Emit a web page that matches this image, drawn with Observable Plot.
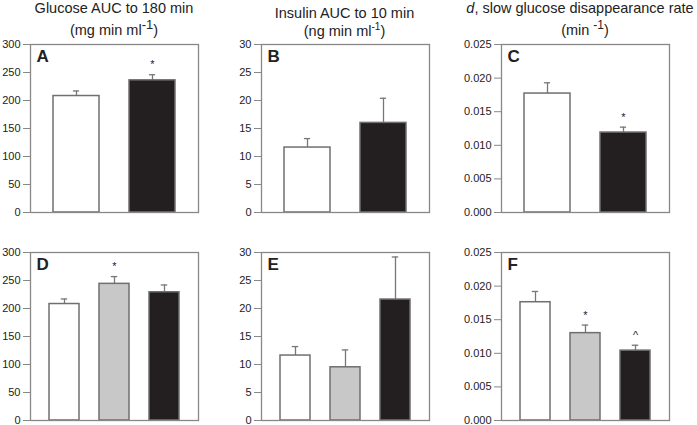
<!DOCTYPE html>
<html><head><meta charset="utf-8">
<script src="https://cdn.jsdelivr.net/npm/d3@7"></script>
<script src="https://cdn.jsdelivr.net/npm/@observablehq/plot@0.6"></script>
<style>
body{margin:0;background:#fff;}
#root{position:relative;width:697px;height:425px;overflow:hidden;font-family:"Liberation Sans",Arial,sans-serif;background:#fff;}
.t{position:absolute;width:260px;text-align:center;font-size:14.5px;line-height:16px;color:#222;white-space:nowrap;}
.t sup{line-height:0;}
.p{position:absolute;}
</style></head><body><div id="root"></div>
<script>
// Groups (no x labels shown in the figure)
const groupsTop = ["Control", "Treated"];
const groupsBottom = ["Control", "Group 2", "Group 3"];
const fillsTop = ["#ffffff", "#231f20"];
const fillsBottom = ["#ffffff", "#c8c8c8", "#231f20"];

// Glucose AUC to 180 min (mg min ml-1)
const glucoseTop = [208, 236];
const glucoseTopErr = [9, 10];
const glucoseTopMarks = ["", "*"];
const glucoseBottom = [208, 244, 229];
const glucoseBottomErr = [9, 13, 13];
const glucoseBottomMarks = ["", "*", ""];
const glucoseTicks = [0, 50, 100, 150, 200, 250, 300];

// Insulin AUC to 10 min (ng min ml-1)
const insulinTop = [11.6, 16.0];
const insulinTopErr = [1.6, 4.4];
const insulinTopMarks = ["", ""];
const insulinBottom = [11.6, 9.5, 21.6];
const insulinBottomErr = [1.6, 3.1, 7.6];
const insulinBottomMarks = ["", "", ""];
const insulinTicks = [0, 5, 10, 15, 20, 25, 30];

// d, slow glucose disappearance rate (min-1)
const rateTop = [0.0177, 0.0119];
const rateTopErr = [0.0016, 0.0008];
const rateTopMarks = ["", "*"];
const rateBottom = [0.0176, 0.0130, 0.0104];
const rateBottomErr = [0.0016, 0.0012, 0.0008];
const rateBottomMarks = ["", "*", "^"];
const rateTicks = [0, 0.005, 0.010, 0.015, 0.020, 0.025];

const root = document.getElementById("root");

function panel({groups, values, errors, marks, fills, letter, ticks, format, left, top, ml, mb}) {
  const n = groups.length;
  const pi = n === 2 ? 0.39 : 0.4;
  const po = n === 2 ? 0.29 : 0.35;
  const W = 168;
  const step = W / (n - pi + 2 * po);
  const bw = step * (1 - pi);
  const capInset = bw / 2 - 3.5;
  const data = groups.map((g, i) => ({g, v: values[i], e: values[i] + errors[i], m: marks[i], f: fills[i]}));
  const chart = Plot.plot({
    width: ml + W + 2, height: 6 + W + mb,
    marginLeft: ml, marginRight: 2, marginTop: 6, marginBottom: mb,
    style: {fontFamily: "Liberation Sans, Arial, sans-serif", fontSize: "11px", color: "#222", background: "transparent", overflow: "visible"},
    x: {domain: groups, paddingInner: pi, paddingOuter: po, axis: null},
    y: {domain: [0, ticks[ticks.length - 1]], axis: null},
    color: {type: "identity"},
    marks: [
      Plot.ruleX(data, {x: "g", y1: "v", y2: "e", stroke: "#777", strokeWidth: 1.3}),
      Plot.barY(data, {x: "g", y: "v", fill: "f", stroke: "#6f6f6f", strokeWidth: 1.5}),
      Plot.tickY(data, {x: "g", y: "e", stroke: "#777", strokeWidth: 1.3, insetLeft: capInset, insetRight: capInset}),
      Plot.text(data, {x: "g", y: "e", text: "m", dy: -10, fontSize: 11, fill: "#222"}),
      Plot.axisY({ticks, tickFormat: format, tickSize: 7, tickPadding: 3, stroke: "#888", fill: "#222"}),
      Plot.frame({stroke: "#888", strokeWidth: 1.3}),
      Plot.text([letter], {text: d => d, frameAnchor: "top-left", textAnchor: "start", lineAnchor: "top", dx: 6, dy: 5, fontSize: 17, fontWeight: "bold", fill: "#222"})
    ]
  });
  chart.classList.add("p");
  chart.style.left = left + "px";
  chart.style.top = top + "px";
  root.appendChild(chart);
}

const f0 = d3.format("d");
const f3 = d3.format(".3f");

panel({groups: groupsTop, values: glucoseTop, errors: glucoseTopErr, marks: glucoseTopMarks, fills: fillsTop, letter: "A", ticks: glucoseTicks, format: f0, left: 0, top: 38, ml: 30, mb: 5});
panel({groups: groupsTop, values: insulinTop, errors: insulinTopErr, marks: insulinTopMarks, fills: fillsTop, letter: "B", ticks: insulinTicks, format: f0, left: 231, top: 38, ml: 30, mb: 5});
panel({groups: groupsTop, values: rateTop, errors: rateTopErr, marks: rateTopMarks, fills: fillsTop, letter: "C", ticks: rateTicks, format: f3, left: 461, top: 38, ml: 40, mb: 5});
panel({groups: groupsBottom, values: glucoseBottom, errors: glucoseBottomErr, marks: glucoseBottomMarks, fills: fillsBottom, letter: "D", ticks: glucoseTicks, format: f0, left: 0, top: 246, ml: 30, mb: 4});
panel({groups: groupsBottom, values: insulinBottom, errors: insulinBottomErr, marks: insulinBottomMarks, fills: fillsBottom, letter: "E", ticks: insulinTicks, format: f0, left: 231, top: 246, ml: 30, mb: 4});
panel({groups: groupsBottom, values: rateBottom, errors: rateBottomErr, marks: rateBottomMarks, fills: fillsBottom, letter: "F", ticks: rateTicks, format: f3, left: 461, top: 246, ml: 40, mb: 4});

// Titles
function title(html, centerX, top) {
  const d = document.createElement("div");
  d.className = "t";
  d.style.left = (centerX - 130) + "px";
  d.style.top = top + "px";
  d.innerHTML = html;
  root.appendChild(d);
}
title("Glucose AUC to 180 min", 114, 0);
title("(mg min ml<sup style='font-size:13px'>-1</sup>)", 114, 22);
title("Insulin AUC to 10 min", 344.5, 5);
title("(ng min ml<sup style='font-size:10px'>-1</sup>)", 344.5, 23);
title("<i>d</i>, slow glucose disappearance rate", 580, 0);
title("(min <sup style='font-size:12px'>-1</sup>)", 585, 22);
</script>
</body></html>
